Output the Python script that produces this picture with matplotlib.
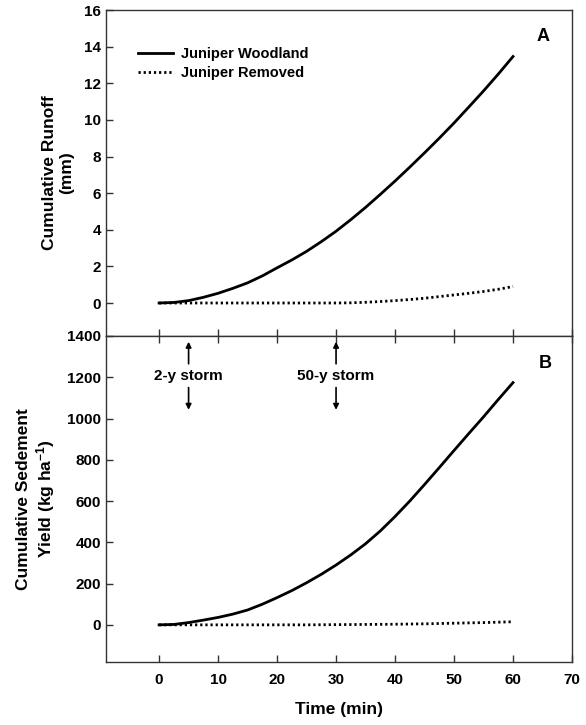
import matplotlib
matplotlib.use("Agg")
import matplotlib.pyplot as plt

plt.rcParams['font.family'] = ['Liberation Sans', 'DejaVu Sans']
plt.rcParams['font.weight'] = 'bold'
plt.rcParams['mathtext.fontset'] = 'custom'
plt.rcParams['mathtext.rm'] = 'Liberation Sans:bold'
plt.rcParams['mathtext.bf'] = 'Liberation Sans:bold'
plt.rcParams['mathtext.default'] = 'bf'

time = [0, 2.5, 5, 7.5, 10, 12.5, 15, 17.5, 20, 22.5, 25, 27.5, 30, 32.5,
        35, 37.5, 40, 42.5, 45, 47.5, 50, 52.5, 55, 57.5, 60]
runoff_woodland = [0, 0.03, 0.13, 0.31, 0.53, 0.8, 1.1, 1.48, 1.92, 2.35, 2.82, 3.35,
                   3.92, 4.55, 5.22, 5.93, 6.66, 7.42, 8.2, 9.0, 9.83, 10.7,
                   11.58, 12.5, 13.46]
runoff_removed = [0, 0, 0, 0, 0, 0, 0, 0, 0, 0, 0, 0, 0.0, 0.01,
                  0.04, 0.08, 0.13, 0.19, 0.26, 0.35, 0.44, 0.53, 0.63, 0.75, 0.9]
sed_woodland = [0, 2, 11, 23, 36, 52, 72, 100, 132, 166, 204, 245, 290, 339,
                393, 455, 525, 600, 680, 762, 845, 927, 1008, 1092, 1174]
sed_removed = [0, 0, 0, 0, 0, 0, 0, 0, 0, 0, 0, 0.5, 1, 1.5,
               2, 2.5, 3, 4, 5, 6.5, 8, 9.5, 11, 13, 15]

legend_labels = ["Juniper Woodland", "Juniper Removed"]
storm_labels = ["2-y storm", "50-y storm"]
storm_times = [5, 30]

fig = plt.figure(figsize=(5.86, 7.25), dpi=100)
axA = fig.add_axes([0.1809, 0.5366, 0.7952, 0.4496])
axB = fig.add_axes([0.1809, 0.0869, 0.7952, 0.4497])

spine_col = '#333333'
dot_style = (0, (0.8, 1.05))
for ax in (axA, axB):
    for s in ax.spines.values():
        s.set_color(spine_col)
        s.set_linewidth(1.0)
    ax.set_xlim(-9, 70)
    ax.set_xticks(range(0, 71, 10))
    ax.tick_params(direction='in', length=5, width=1, color=spine_col,
                   labelsize=11, right=False)

# Panel A
axA.plot(time, runoff_woodland, color='black', lw=2.0, ls='-', label=legend_labels[0])
axA.plot(time, runoff_removed, color='black', lw=2.0, ls=dot_style, label=legend_labels[1])
axA.set_ylim(-1.8, 16)
axA.set_yticks(range(0, 17, 2))
axA.tick_params(axis='x', labelbottom=False)
axA.set_ylabel("Cumulative Runoff\n(mm)", fontsize=12.5, fontweight='bold', labelpad=7)
axA.legend(loc='upper left', bbox_to_anchor=(0.056, 0.903), borderaxespad=0, frameon=False,
           handlelength=2.4, handletextpad=0.55, labelspacing=0.3,
           prop={'weight': 'bold', 'size': 10.5})
axA.text(0.938, 0.92, "A", transform=axA.transAxes, fontsize=13, fontweight='bold',
         ha='center', va='center')

# Panel B
axB.plot(time, sed_woodland, color='black', lw=2.0, ls='-')
axB.plot(time, sed_removed, color='black', lw=2.0, ls=dot_style)
axB.set_ylim(-180, 1400)
axB.set_yticks(range(0, 1401, 200))
axB.tick_params(axis='x', top=True, pad=8)
axB.set_ylabel("Cumulative Sedement\nYield (kg ha$^{-1}$)", fontsize=12.5,
               fontweight='bold', labelpad=7)
axB.set_xlabel("Time (min)", fontsize=12.5, fontweight='bold', labelpad=11)
axB.text(0.942, 0.917, "B", transform=axB.transAxes, fontsize=13, fontweight='bold',
         ha='center', va='center')

for ax in (axA, axB):
    for lbl in ax.get_xticklabels() + ax.get_yticklabels():
        lbl.set_fontweight('bold')

for t, lab in zip(storm_times, storm_labels):
    axB.annotate("", xy=(t, 1372), xytext=(t, 1265),
                 arrowprops=dict(arrowstyle='-|>', color='black', lw=1.2,
                                 mutation_scale=8, shrinkA=0, shrinkB=0))
    axB.text(t, 1208, lab, ha='center', va='center', fontsize=11, fontweight='bold')
    axB.annotate("", xy=(t, 1042), xytext=(t, 1150),
                 arrowprops=dict(arrowstyle='-|>', color='black', lw=1.2,
                                 mutation_scale=8, shrinkA=0, shrinkB=0))

fig.savefig("out.png", dpi=100)
